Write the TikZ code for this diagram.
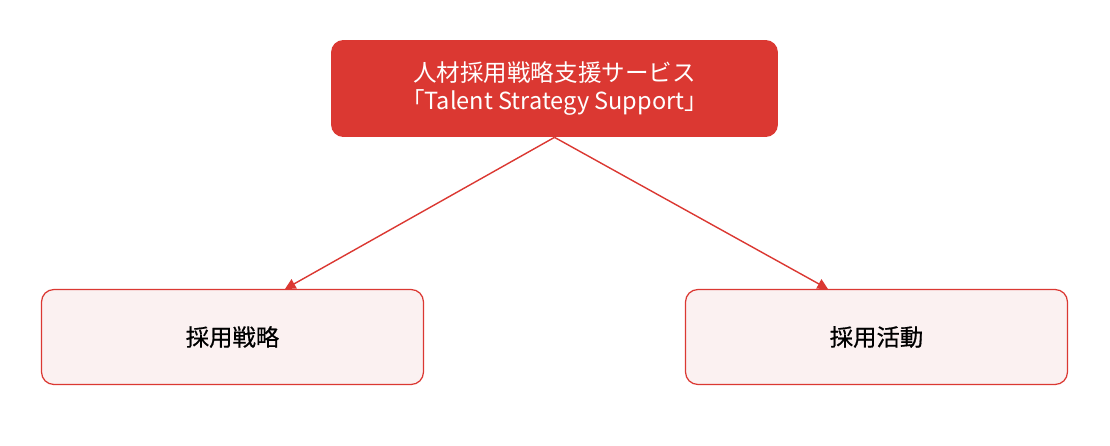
\documentclass[tikz,border=0pt]{standalone}
\usepackage{fontspec}
\setmainfont{Noto Sans CJK JP}
\newfontfamily\areafont[FakeBold=0.6]{Noto Sans CJK JP}
\usetikzlibrary{arrows.meta,calc}
\definecolor{strategyred}{HTML}{DB3832}
\definecolor{paleblush}{HTML}{FBF1F1}
\tikzstyle{service}=[rectangle,rounded corners=7pt,fill=strategyred,text=white,minimum width=8.94cm,minimum height=1.94cm,inner sep=0pt,align=center,font=\fontsize{13.4}{16}\selectfont]
\tikzstyle{area}=[rectangle,rounded corners=7pt,fill=paleblush,draw=strategyred,line width=0.7pt,minimum width=7.64cm,minimum height=1.9cm,inner sep=0pt,font=\fontsize{13.3}{15}\areafont]
\tikzstyle{edge} = [draw,strategyred,line width=0.8pt,-{Triangle[length=6pt,width=6pt]}]

\begin{document}
\begin{tikzpicture}[x=0.02cm,y=-0.02cm]
    \useasboundingbox (0,0) rectangle (1110,446);
    % First we draw the boxes
    \node[service] (svc) at (554.5,88.5) {人材採用戦略支援サービス\\「Talent Strategy Support」};

    \foreach \pos/\name/\label in {{(232.5,337)/plan/採用戦略}, {(876.5,337)/act/採用活動}}
        \node[area] (\name) at \pos {\label};

    % Arrow tips on the top edges
    \coordinate (plantip) at (285,289);
    \coordinate (acttip) at (828,289);

    % Connect the service with both areas
    \foreach \dest in {plantip, acttip}
        \path[edge] (svc.south) -- (\dest);
\end{tikzpicture}
\end{document}
